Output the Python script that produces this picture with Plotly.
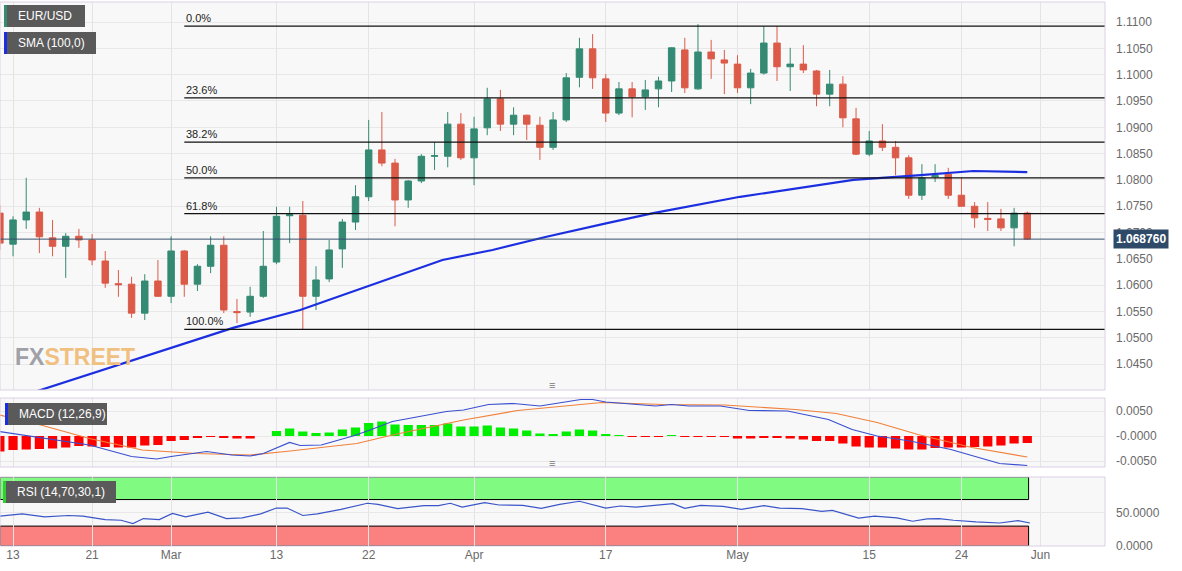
import plotly.graph_objects as go
from plotly.subplots import make_subplots

# ---------------- data ----------------
# candle index 0 = Feb 10, 1 = Feb 13 ... 78 = May 31 (trading days)
opens = [1.0737,1.0678,1.0724,1.0739,1.0690,1.0674,1.0693,1.0686,1.0646,1.0603,
         1.0602,1.0547,1.0608,1.0579,1.0665,1.0602,1.0636,1.0676,1.0550,1.0549,
         1.0579,1.0644,1.0732,1.0733,1.0579,1.0612,1.0669,1.0720,1.0768,1.0857,
         1.0832,1.0762,1.0798,1.0845,1.0845,1.0906,1.0842,1.0899,1.0954,1.0906,
         1.0923,1.0904,1.0862,1.0914,1.0995,1.1049,1.0992,1.0927,1.0973,1.0958,
         1.0973,1.0988,1.1047,1.0973,1.1043,1.1028,1.1020,1.0975,1.1003,1.1060,
         1.1015,1.1020,1.1007,1.0963,1.0982,1.0916,1.0849,1.0874,1.0862,1.0842,
         1.0771,1.0806,1.0811,1.0771,1.0750,1.0727,1.0726,1.0709,1.0737]
closes = [1.0680,1.0724,1.0739,1.0692,1.0674,1.0693,1.0686,1.0648,1.0604,1.0601,
          1.0547,1.0608,1.0579,1.0665,1.0602,1.0636,1.0676,1.0553,1.0548,1.0579,
          1.0636,1.0731,1.0734,1.0579,1.0610,1.0667,1.0720,1.0768,1.0857,1.0832,
          1.0762,1.0798,1.0845,1.0846,1.0906,1.0842,1.0897,1.0954,1.0906,1.0923,
          1.0906,1.0862,1.0914,1.0994,1.1049,1.0994,1.0927,1.0973,1.0958,1.0971,
          1.0988,1.1051,1.0975,1.1043,1.1030,1.1022,1.0975,1.1003,1.1060,1.1015,
          1.1020,1.1009,1.0963,1.0982,1.0918,1.0849,1.0874,1.0862,1.0842,1.0771,
          1.0804,1.0808,1.0771,1.0750,1.0728,1.0725,1.0709,1.0737,1.06876]
highs = [1.0752,1.0731,1.0804,1.0747,1.0724,1.0699,1.0707,1.0697,1.0665,1.0629,
         1.0616,1.0621,1.0648,1.0693,1.0667,1.0640,1.0693,1.0693,1.0574,1.0597,
         1.0703,1.0749,1.0749,1.0760,1.0636,1.0686,1.0726,1.0790,1.0914,1.0929,
         1.0840,1.0800,1.0849,1.0872,1.0929,1.0927,1.0920,1.0975,1.0971,1.0938,
         1.0924,1.0920,1.0929,1.1003,1.1070,1.1077,1.1001,1.0986,1.0986,1.0990,
         1.0996,1.1052,1.1070,1.1096,1.1066,1.1047,1.1037,1.1011,1.1092,1.1092,
         1.1051,1.1056,1.1009,1.1009,1.0997,1.0937,1.0893,1.0906,1.0874,1.0847,
         1.0830,1.0830,1.0823,1.0804,1.0758,1.0758,1.0745,1.0747,1.0740]
lows = [1.0667,1.0655,1.0707,1.0661,1.0655,1.0614,1.0671,1.0638,1.0595,1.0578,
        1.0538,1.0534,1.0578,1.0566,1.0578,1.0589,1.0623,1.0547,1.0528,1.0540,
        1.0576,1.0640,1.0680,1.0516,1.0553,1.0606,1.0633,1.0705,1.0760,1.0826,
        1.0712,1.0747,1.0794,1.0819,1.0824,1.0838,1.0790,1.0885,1.0893,1.0885,
        1.0876,1.0838,1.0857,1.0910,1.0976,1.0973,1.0910,1.0923,1.0919,1.0933,
        1.0938,1.0967,1.0965,1.0971,1.0992,1.0963,1.0965,1.0944,1.1000,1.0988,
        1.0969,1.1003,1.0940,1.0940,1.0900,1.0847,1.0845,1.0855,1.0809,1.0764,
        1.0762,1.0796,1.0764,1.0750,1.0709,1.0703,1.0703,1.0674,1.0686]

sma_idx = [0, 3.6, 17.7, 22.8, 28.9, 33.6, 37.4, 41.5, 46.1, 49.6, 56.2, 59.8, 64.8, 69.9, 73.9, 78]
sma_val = [1.0376, 1.0405, 1.0519, 1.0553, 1.0606, 1.0648, 1.0667, 1.0692, 1.0718, 1.0737,
           1.0768, 1.0781, 1.0800, 1.0809, 1.0817, 1.0815]

macd_hist = [-0.0031,-0.0028,-0.0027,-0.0026,-0.0025,-0.0023,-0.0020,-0.0021,-0.0022,-0.0023,
             -0.0023,-0.0019,-0.0018,-0.0010,-0.0008,-0.0004,-0.0001,-0.0003,-0.0005,-0.0005,
             0.0000,0.0010,0.0015,0.0009,0.0006,0.0007,0.0013,0.0017,0.0026,0.0029,
             0.0023,0.0022,0.0022,0.0022,0.0025,0.0019,0.0019,0.0021,0.0017,0.0015,
             0.0011,0.0005,0.0004,0.0009,0.0013,0.0011,0.0003,0.0002,-0.0001,-0.0002,
             -0.0002,0.0001,-0.0002,-0.0001,-0.0001,-0.0002,-0.0005,-0.0005,-0.0003,-0.0003,
             -0.0005,-0.0007,-0.0010,-0.0010,-0.0015,-0.0021,-0.0023,-0.0023,-0.0025,-0.0027,
             -0.0027,-0.0024,-0.0023,-0.0023,-0.0022,-0.0021,-0.0019,-0.0015,-0.0014]
macd_idx = [0,6.8,10,11.9,13,15.7,17.6,19,20,22,22.8,24.4,26.8,27.9,29.8,33.9,35.2,37.1,39,
            41,44.1,45,46,49.8,51,52.3,54.7,56.9,59.8,62.9,64.7,66.6,69.1,72.2,75.9,78]
macd_val = [0.0009,-0.0018,-0.0041,-0.0046,-0.0041,-0.0031,-0.0038,-0.0040,-0.0035,-0.0013,
            -0.0019,-0.0018,0.0000,0.0010,0.0029,0.0049,0.0052,0.0063,0.0065,
            0.0060,0.0073,0.0073,0.0068,0.0060,0.0063,0.0060,0.0060,0.0051,0.0050,0.0033,
            0.0013,0.0000,-0.0010,-0.0027,-0.0055,-0.0059]
sig_idx = [0,2.7,6.8,10.8,14.9,19,21.7,27.1,29.8,35.2,39.3,41,45.7,50.4,55,60.4,63.5,66.6,69.7,73.8,78]
sig_val = [0.0042,0.0025,-0.0005,-0.0028,-0.0035,-0.0038,-0.0031,-0.0015,0.0002,0.0032,0.0051,
           0.0055,0.0067,0.0063,0.0062,0.0053,0.0045,0.0027,0.0003,-0.0023,-0.0042]

rsi_idx = [0,1.7,3.4,5.2,6.3,8.0,9.2,10.1,10.9,12.1,13.1,14.1,15.8,17.2,18.4,19.8,21.0,21.8,23.0,
           24.1,25.9,27.9,28.7,30.2,32.2,33.3,34.2,35.1,36.8,37.9,39.7,41.1,42.5,44.0,46.0,47.1,
           48.3,50.0,51.1,52.0,53.2,54.9,56.3,58.0,59.2,60.9,62.4,63.2,65.2,66.4,68.1,69.3,70.4,
           71.3,72.4,74.1,75.9,77.3,78.2]
rsi_val = [44.9,48.5,43.9,46,45,39.8,38.8,33.7,41.4,39.8,49,43.9,51.1,41.4,42.4,48.5,57.2,57.2,46,
           48.5,55.2,64.4,62.8,56.2,60.8,60.8,64.4,58.7,65.4,61.8,61.3,56.7,62.8,67.4,57.2,60.3,
           58.7,61.3,63.9,56.7,61.3,59.8,55.2,60.8,57.2,56.2,52.1,53.6,41.9,45,42.4,37.3,40.9,
           41.4,38.8,36.3,34.7,38.3,34.7]

tick_idx = [1, 7, 13, 21, 28, 36, 46, 56, 66, 73, 79]
tick_txt = ["13", "21", "Mar", "13", "22", "Apr", "17", "May", "15", "24", "Jun"]

fib_high, fib_low = 1.1092, 1.0516
fib_ratios = [0.0, 0.236, 0.382, 0.5, 0.618, 1.0]
last_price = 1.06876

price_ticks = [1.0450 + 0.005 * k for k in range(14)]

# ---------------- figure ----------------
x = list(range(len(opens)))
XR = [0.01, 83.9]
GREEN, RED = "#348a73", "#dc5a48"
fig = make_subplots(rows=3, cols=1, shared_xaxes=True)

fig.add_trace(go.Candlestick(x=x, open=opens, high=highs, low=lows, close=closes,
    increasing=dict(line=dict(color=GREEN, width=1), fillcolor=GREEN),
    decreasing=dict(line=dict(color=RED, width=1), fillcolor=RED),
    whiskerwidth=0, showlegend=False, hoverinfo="skip"), row=1, col=1)
fig.add_trace(go.Scatter(x=sma_idx, y=sma_val, mode="lines", line=dict(color="#1c2fe0", width=2.2),
    showlegend=False, hoverinfo="skip"), row=1, col=1)

hcol = ["#00ee00" if v > 0 else ("#ff0000" if v < 0 else "#cccccc") for v in macd_hist]
fig.add_trace(go.Bar(x=x, y=macd_hist, marker=dict(color=hcol, line=dict(width=0)), width=0.7,
    showlegend=False, hoverinfo="skip"), row=2, col=1)
fig.add_trace(go.Scatter(x=sig_idx, y=sig_val, mode="lines", line=dict(color="#f0803a", width=1.2),
    showlegend=False, hoverinfo="skip"), row=2, col=1)
fig.add_trace(go.Scatter(x=macd_idx, y=macd_val, mode="lines", line=dict(color="#3a4fd0", width=1.2),
    showlegend=False, hoverinfo="skip"), row=2, col=1)

fig.add_trace(go.Scatter(x=rsi_idx, y=rsi_val, mode="lines", line=dict(color="#3a55c8", width=1.2),
    showlegend=False, hoverinfo="skip"), row=3, col=1)

H = 547.0
def dom(top, bot):
    return [1 - bot / H, 1 - top / H]

grid = "#e4e4e4"
axfont = dict(family="Liberation Sans, Arial", size=12, color="#6a6a6a")
for i in (1, 2, 3):
    fig.update_xaxes(row=i, col=1, range=XR, tickvals=tick_idx, ticktext=tick_txt, showgrid=True,
                     gridcolor=grid, zeroline=False, showticklabels=(i == 3),
                     rangeslider=dict(visible=False), ticks="",
                     tickfont=dict(family="Liberation Sans Narrow, Liberation Sans", size=12, color="#6a6a6a"))

for r in (1, 2, 3):
    fig.update_yaxes(row=r, col=1, ticklabelstandoff=10)
fig.update_yaxes(row=1, col=1, range=[1.0401, 1.1138], side="right", tickvals=price_ticks,
                 ticktext=[f"{v:.4f}" for v in price_ticks], gridcolor="#e8e8e8", zeroline=False,
                 tickfont=axfont)
fig.update_yaxes(row=2, col=1, range=[-0.0062, 0.0076], side="right", tickvals=[0.005, 0, -0.005],
                 ticktext=["0.0050", "-0.0000", "-0.0050"], gridcolor="#e8e8e8", zeroline=False,
                 tickfont=axfont)
fig.update_yaxes(row=3, col=1, range=[0, 104], side="right", tickvals=[0, 50],
                 ticktext=["0.0000", "50.0000"], gridcolor="#e8e8e8", zeroline=False, tickfont=axfont)

fig.update_layout(
    width=1182, height=571, paper_bgcolor="white", plot_bgcolor="#f8f8f8",
    margin=dict(l=0, r=77, t=0, b=24), bargap=0.3, showlegend=False,
    yaxis=dict(domain=dom(2, 390)), yaxis2=dict(domain=dom(398, 467)), yaxis3=dict(domain=dom(477, 546)),
)

shapes = []
shapes.append(dict(type="rect", xref="x3", yref="y3", x0=XR[0], x1=78.1, y0=70, y1=104,
                   fillcolor="#80fa80", line=dict(color="black", width=1), layer="below"))
shapes.append(dict(type="rect", xref="x3", yref="y3", x0=XR[0], x1=78.1, y0=0, y1=30,
                   fillcolor="#fb8080", line=dict(color="black", width=1), layer="below"))
fib_vals = [fib_high - r * (fib_high - fib_low) for r in fib_ratios]
for r, v in zip(fib_ratios, fib_vals):
    shapes.append(dict(type="line", xref="x", yref="y", x0=14.0, x1=XR[1], y0=v, y1=v,
                       line=dict(color="#111", width=1.2)))
    fig.add_annotation(x=14.0, y=v, xref="x", yref="y", text=f"{r*100:.1f}%", showarrow=False,
                       xanchor="left", yanchor="bottom", yshift=0,
                       font=dict(family="Liberation Sans, Arial", size=11, color="#222"))
shapes.append(dict(type="line", xref="x", yref="y", x0=XR[0], x1=XR[1], y0=last_price, y1=last_price,
                   line=dict(color="#34506e", width=1)))
for top, bot in [(2, 390), (398, 467), (477, 546)]:
    d = dom(top, bot)
    shapes.append(dict(type="rect", xref="paper", yref="paper", x0=0, x1=1, y0=d[0], y1=d[1],
                       line=dict(color="#dcd0e4", width=1)))
fig.update_layout(shapes=shapes)

fig.add_annotation(x=1.0, y=last_price, xref="paper", yref="y", text=f"<b>{last_price:.6f}</b>",
                   showarrow=False, xanchor="left", xshift=8, bgcolor="#2f4a68", borderpad=2,
                   font=dict(family="Liberation Sans, Arial", size=12, color="white"))

def label(text, xpx, ypx, w, stripe):
    yt = 1 - ypx / H
    yb = 1 - (ypx + 22) / H
    fig.add_shape(type="rect", xref="paper", yref="paper", x0=xpx / 1105, x1=(xpx + w) / 1105,
                  y0=yb, y1=yt, fillcolor="#5a5a5a", line=dict(width=0))
    fig.add_shape(type="rect", xref="paper", yref="paper", x0=xpx / 1105, x1=(xpx + 3) / 1105,
                  y0=yb, y1=yt, fillcolor=stripe, line=dict(width=0))
    fig.add_annotation(x=(xpx + 12) / 1105, y=(yt + yb) / 2, xref="paper", yref="paper", text=text,
                       showarrow=False, xanchor="left", yanchor="middle",
                       font=dict(family="Liberation Sans, Arial", size=12, color="white"))

label("EUR/USD", 4, 5, 81, GREEN)
label("SMA (100,0)", 4, 32, 92, "#1c2fe0")
label("MACD (12,26,9)", 5, 403, 102, "#1c2fe0")
label("RSI (14,70,30,1)", 3, 481, 113, "#30d030")

fig.add_annotation(x=13 / 1105, y=1 - 357 / H, xref="paper", yref="paper", showarrow=False,
                   xanchor="left", yanchor="middle",
                   text="<b><span style='color:#a0a0a8'>FX</span><span style='color:#f0c080'>STREET</span></b>",
                   font=dict(family="Liberation Sans Narrow, Liberation Sans", size=23))
for ypx in (394, 472):
    fig.add_annotation(x=552 / 1105, y=1 - ypx / H, xref="paper", yref="paper", text="≡",
                       showarrow=False, font=dict(size=11, color="#777"))

fig.write_html("out.html", config={"displayModeBar": False},
               post_script="document.body.style.margin='0';document.body.style.padding='0';")
